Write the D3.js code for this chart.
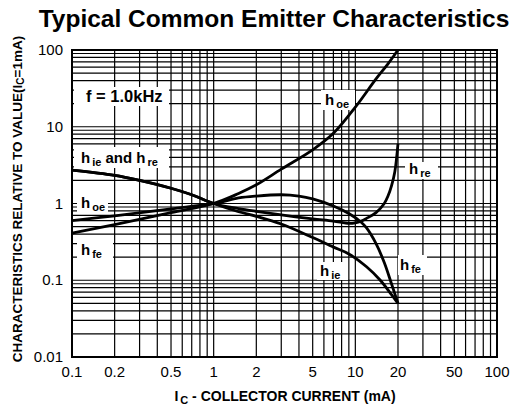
<!DOCTYPE html>
<html>
<head>
<meta charset="utf-8">
<script src="https://cdn.jsdelivr.net/npm/d3@7"></script>
<style>
  body { margin: 0; background: #fff; }
  text { font-family: "Liberation Sans", Arial, Helvetica, sans-serif; fill: #000; }
</style>
</head>
<body>
<div id="chart"></div>
<script>
// values, relative to Ic = 1mA
var hoeI = [0.1, 0.2, 0.5, 1, 1.5, 2, 3, 5, 7, 10, 14, 17, 20];
var hoeV = [0.41, 0.53, 0.76, 1, 1.35, 1.75, 2.8, 5.0, 8.2, 18, 42, 66, 100];

var hfeI = [0.1, 0.2, 0.5, 1, 1.5, 2, 3, 4, 5, 7, 9, 11, 12, 14, 16, 18, 20];
var hfeV = [0.6, 0.69, 0.85, 1, 1.18, 1.25, 1.3, 1.25, 1.15, 0.93, 0.74, 0.57, 0.48, 0.3, 0.17, 0.09, 0.05];

var hieI = [0.1, 0.2, 0.3, 0.5, 0.7, 1, 1.5, 2, 3, 5, 7, 9, 12, 15, 18, 20];
var hieV = [2.73, 2.33, 2.0, 1.58, 1.3, 1, 0.78, 0.68, 0.54, 0.36, 0.27, 0.22, 0.15, 0.1, 0.065, 0.05];

var hreI = [0.1, 0.2, 0.3, 0.5, 0.7, 1, 1.5, 2, 3, 5, 7, 9, 10, 11, 12, 14, 16, 17, 18, 19, 20];
var hreV = [2.73, 2.33, 2.0, 1.58, 1.3, 1, 0.86, 0.79, 0.71, 0.63, 0.59, 0.55, 0.56, 0.59, 0.64, 0.76, 1.0, 1.25, 1.7, 2.6, 6.0];

var xTickVals = [0.1, 0.2, 0.5, 1, 2, 5, 10, 20, 50, 100];
var xTickText = ["0.1", "0.2", "0.5", "1", "2", "5", "10", "20", "50", "100"];
var yTickVals = [0.01, 0.1, 1, 10, 100];
var yTickText = ["0.01", "0.1", "1", "10", "100"];

var width = 518, height = 410;
var margin = { top: 50, right: 21, bottom: 53, left: 72 };

var svg = d3.select("#chart").append("svg")
  .attr("width", width)
  .attr("height", height);

var x = d3.scaleLog().domain([0.1, 100]).range([margin.left, width - margin.right]);
var y = d3.scaleLog().domain([0.01, 100]).range([height - margin.bottom, margin.top]);

// title
svg.append("text")
  .attr("x", 274)
  .attr("y", 27)
  .attr("text-anchor", "middle")
  .attr("font-size", "24.5px")
  .attr("font-weight", "bold")
  .text("Typical Common Emitter Characteristics");

// grid
var grid = svg.append("g").attr("class", "grid");
grid.selectAll(".vline")
  .data(x.ticks())
  .enter().append("line")
  .attr("x1", function(d) { return x(d); })
  .attr("x2", function(d) { return x(d); })
  .attr("y1", y(100))
  .attr("y2", y(0.01))
  .attr("stroke", "#000")
  .attr("stroke-width", 1.2);
grid.selectAll(".hline")
  .data(y.ticks())
  .enter().append("line")
  .attr("y1", function(d) { return y(d); })
  .attr("y2", function(d) { return y(d); })
  .attr("x1", x(0.1))
  .attr("x2", x(100))
  .attr("stroke", "#000")
  .attr("stroke-width", 1.2);

// frame
svg.append("rect")
  .attr("x", x(0.1))
  .attr("y", y(100))
  .attr("width", x(100) - x(0.1))
  .attr("height", y(0.01) - y(100))
  .attr("fill", "none")
  .attr("stroke", "#000")
  .attr("stroke-width", 2);

// white boxes behind the annotations
var boxes = [
  [74, 87, 95, 19],
  [74, 147, 95, 21],
  [77, 195, 31, 17],
  [77, 242, 36, 18],
  [321, 90, 34, 20],
  [405, 162, 33, 17],
  [317, 262, 31, 18],
  [398, 255, 29, 20]
];
svg.selectAll(".box")
  .data(boxes)
  .enter().append("rect")
  .attr("x", function(d) { return d[0]; })
  .attr("y", function(d) { return d[1]; })
  .attr("width", function(d) { return d[2]; })
  .attr("height", function(d) { return d[3]; })
  .attr("fill", "#fff");

// curves
var line = d3.line()
  .x(function(d) { return x(d[0]); })
  .y(function(d) { return y(d[1]); })
  .curve(d3.curveCatmullRom.alpha(0.5));

var series = [
  d3.zip(hoeI, hoeV),
  d3.zip(hfeI, hfeV),
  d3.zip(hieI, hieV),
  d3.zip(hreI, hreV)
];
svg.selectAll(".curve")
  .data(series)
  .enter().append("path")
  .attr("d", line)
  .attr("fill", "none")
  .attr("stroke", "#000")
  .attr("stroke-width", 2.8)
  .attr("stroke-linejoin", "round");

// labels
function hLabel(px, py, parts) {
  var t = svg.append("text")
    .attr("x", px)
    .attr("y", py)
    .attr("font-weight", "bold")
    .attr("font-size", "15px");
  parts.forEach(function(p) {
    var ts = t.append("tspan").text(p.t);
    if (p.sub) ts.attr("font-size", "11px").attr("dy", 3).attr("dx", 2);
    else if (p.up) ts.attr("dy", -3);
  });
}
svg.append("text")
  .attr("x", 86)
  .attr("y", 102)
  .attr("font-weight", "bold")
  .attr("font-size", "16.5px")
  .text("f = 1.0kHz");
hLabel(81, 163, [{t: "h"}, {t: "ie", sub: true}, {t: " and h", up: true}, {t: "re", sub: true}]);
hLabel(81, 208, [{t: "h"}, {t: "oe", sub: true}]);
hLabel(81, 255, [{t: "h"}, {t: "fe", sub: true}]);
hLabel(325, 105, [{t: "h"}, {t: "oe", sub: true}]);
hLabel(409, 174, [{t: "h"}, {t: "re", sub: true}]);
hLabel(320, 276, [{t: "h"}, {t: "ie", sub: true}]);
hLabel(400, 270, [{t: "h"}, {t: "fe", sub: true}]);

// tick labels
svg.selectAll(".xt")
  .data(xTickVals)
  .enter().append("text")
  .attr("x", function(d) { return x(d); })
  .attr("y", 377)
  .attr("text-anchor", "middle")
  .attr("font-size", "15px")
  .text(function(d, i) { return xTickText[i]; });
svg.selectAll(".yt")
  .data(yTickVals)
  .enter().append("text")
  .attr("x", 63)
  .attr("y", function(d) { return y(d) + 5; })
  .attr("text-anchor", "end")
  .attr("font-size", "15px")
  .text(function(d, i) { return yTickText[i]; });

// axis titles
var xt = svg.append("text")
  .attr("x", 285)
  .attr("y", 401)
  .attr("text-anchor", "middle")
  .attr("font-weight", "bold")
  .attr("font-size", "14px");
xt.append("tspan").text("I");
xt.append("tspan").attr("font-size", "11px").attr("dy", 3).attr("dx", 2).text("C");
xt.append("tspan").attr("dy", -3).text(" - COLLECTOR CURRENT (mA)");

var yt = svg.append("text")
  .attr("transform", "translate(22,199) rotate(-90)")
  .attr("text-anchor", "middle")
  .attr("font-weight", "bold")
  .attr("font-size", "13.5px");
yt.append("tspan").text("CHARACTERISTICS RELATIVE TO VALUE(I");
yt.append("tspan").attr("font-size", "10px").attr("dy", 2).text("C");
yt.append("tspan").attr("dy", -2).text("=1mA)");
</script>
</body>
</html>
